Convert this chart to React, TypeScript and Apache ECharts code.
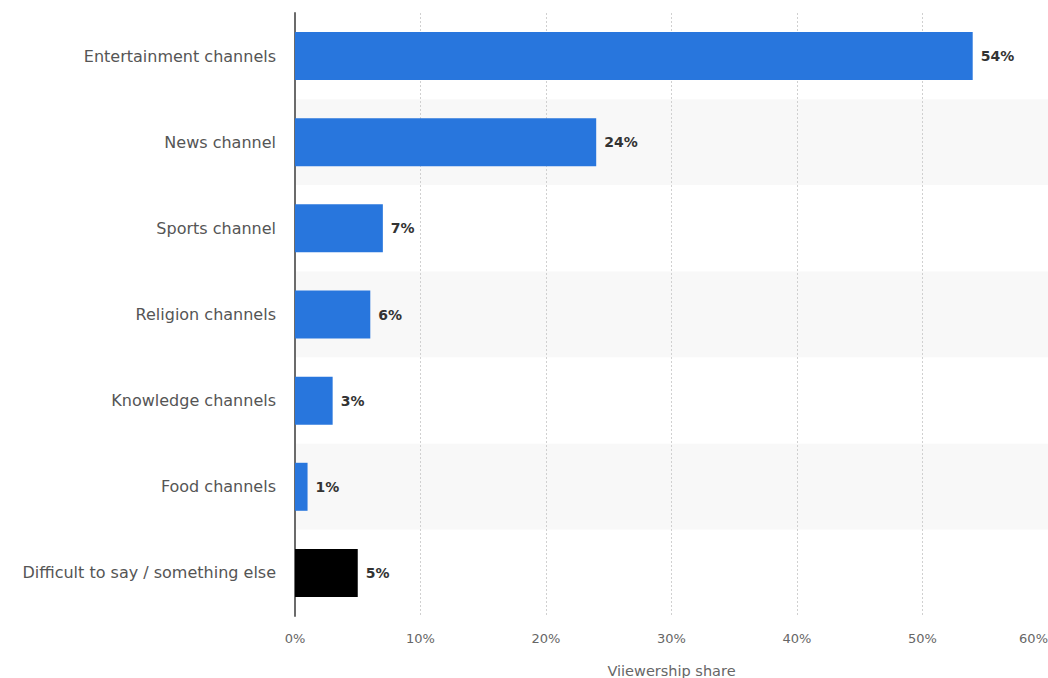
import React, { useEffect, useRef } from "react";
import * as echarts from "echarts";

const categories = [
  "Entertainment channels",
  "News channel",
  "Sports channel",
  "Religion channels",
  "Knowledge channels",
  "Food channels",
  "Difficult to say / something else",
];
const values = [54, 24, 7, 6, 3, 1, 5];
const barColors = ["#2876dd", "#2876dd", "#2876dd", "#2876dd", "#2876dd", "#2876dd", "#000000"];
const xTicks = [0, 10, 20, 30, 40, 50, 60];
const axisTitle = "Viiewership share";

export default function App() {
  const ref = useRef<HTMLDivElement>(null);
  useEffect(() => {
    if (!ref.current) return;
    const chart = echarts.init(ref.current, null, { renderer: "svg" });
    const font = "'DejaVu Sans', Verdana, sans-serif";
    chart.setOption({
      animation: false,
      backgroundColor: "#ffffff",
      grid: {
        left: 295,
        right: 0,
        top: 13,
        bottom: 62,
        containLabel: false,
        outerBoundsMode: "none",
      },
      xAxis: {
        type: "value",
        min: xTicks[0],
        max: xTicks[xTicks.length - 1],
        interval: 10,
        name: axisTitle,
        nameLocation: "middle",
        nameGap: 47,
        nameTextStyle: { color: "#666", fontSize: 14.5, fontFamily: font },
        axisLine: { show: false },
        axisTick: { show: false },
        axisLabel: {
          color: "#666",
          fontSize: 13,
          fontFamily: font,
          margin: 16,
          alignMaxLabel: "right",
          formatter: (v: number) => `${v}%`,
        },
        splitLine: { show: true, lineStyle: { color: "#d0d0d0", type: [2, 2], width: 1 } },
      },
      yAxis: {
        type: "category",
        data: categories,
        inverse: true,
        axisLine: { show: true, lineStyle: { color: "#6b6b6b", width: 2 } },
        axisTick: { show: false },
        axisLabel: { color: "#555", fontSize: 16, fontFamily: font, margin: 19 },
        splitArea: { show: true, areaStyle: { color: ["#ffffff", "#f8f8f8"] } },
      },
      series: [
        {
          type: "bar",
          data: values.map((v, i) => ({ value: v, itemStyle: { color: barColors[i] } })),
          barWidth: 48,
          label: {
            show: true,
            position: "right",
            distance: 8,
            formatter: "{c}%",
            color: "#333",
            fontWeight: "bold",
            fontSize: 14,
            fontFamily: font,
          },
        },
      ],
    });
    return () => chart.dispose();
  }, []);
  return (
    <div
      ref={ref}
      style={{ position: "fixed", left: 0, top: 0, width: 1048, height: 678 }}
    />
  );
}
